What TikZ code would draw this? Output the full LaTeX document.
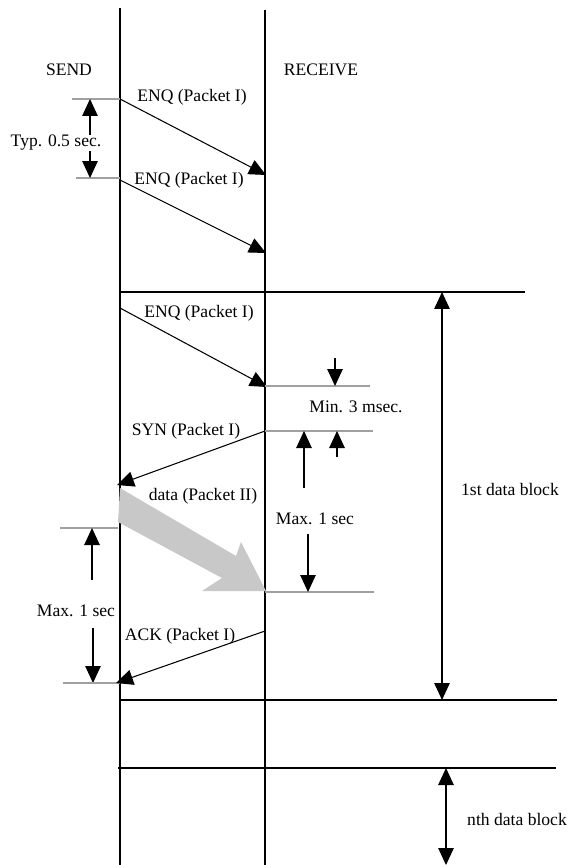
\documentclass[tikz,border=0pt]{standalone}
\usepackage{fontspec}
\setmainfont{Liberation Serif}
\usetikzlibrary{arrows.meta,positioning}
\definecolor{datagray}{RGB}{200,200,200}
\definecolor{tickgray}{RGB}{160,160,160}

\begin{document}
\begin{tikzpicture}[x=0.02cm, y=-0.02cm, every node/.style={font=\fontsize{10}{12}\selectfont, inner sep=1pt},
  msg/.style={line width=0.6pt, -{Triangle[length=0.34cm, width=0.31cm]}},
  dim/.style={line width=0.6pt, -{Triangle[length=0.34cm, width=0.31cm]}},
  dimboth/.style={line width=0.7pt, {Triangle[length=0.34cm, width=0.31cm]}-{Triangle[length=0.34cm, width=0.31cm]}},
  tick/.style={draw=tickgray, line width=0.6pt},
  block/.style={line width=0.7pt}]
\useasboundingbox (0,0) rectangle (569,865);
% lifelines
\coordinate (sendtop) at (120,8);
\coordinate (sendbot) at (120,865);
\coordinate (recvtop) at (265,10);
\coordinate (recvbot) at (265,865);
\draw[block] (sendtop) -- (sendbot);
\draw[block] (recvtop) -- (recvbot);
\node (send) at (69,70) {SEND};
\node (receive) at (321,70) {RECEIVE};

% repeated ENQ
\coordinate (enqa) at (120,99);
\coordinate (enqaend) at (266,175);
\coordinate (enqb) at (120,180);
\coordinate (enqbend) at (266,253);
\coordinate (ticka) at (72,99);
\coordinate (tickb) at (76,178);
\coordinate (tickbend) at (120,178);
\draw[tick] (ticka) -- (enqa);
\draw[tick] (tickb) -- (tickbend);
\draw[msg] (enqa) -- (enqaend);
\draw[msg] (enqb) -- (enqbend);
\node (enqalabel) at (192,97) {ENQ (Packet I)};
\node (enqblabel) at (189,180) {ENQ (Packet I)};
\coordinate (typtop) at (90,99);
\coordinate (typbot) at (90,178);
\draw[dimboth] (typtop) -- (typbot);
\node[fill=white, inner sep=0pt] (typ) at (56,143) {Typ. 0.5 sec.};

% block boundaries
\coordinate (blockal) at (120,292);
\coordinate (blockar) at (525,292);
\coordinate (blockbl) at (120,700);
\coordinate (blockbr) at (557,700);
\coordinate (blockcl) at (118,768);
\coordinate (blockcr) at (556,768);
\draw[block] (blockal) -- (blockar);
\draw[block] (blockbl) -- (blockbr);
\draw[block] (blockcl) -- (blockcr);

% ENQ / SYN handshake
\coordinate (enqc) at (120,308);
\coordinate (enqcend) at (267,387);
\draw[msg] (enqc) -- (enqcend);
\node (enqclabel) at (199,313) {ENQ (Packet I)};
\coordinate (minl) at (265,386);
\coordinate (minr) at (370,386);
\draw[tick] (minl) -- (minr);
\coordinate (synl) at (265,431);
\coordinate (synr) at (373,431);
\draw[tick] (synl) -- (synr);
\coordinate (mindown) at (335,358);
\coordinate (mindownend) at (335,386);
\draw[dim] (mindown) -- (mindownend);
\coordinate (minup) at (337,457);
\coordinate (minupend) at (337,431);
\draw[dim] (minup) -- (minupend);
\node (min) at (356,407) {Min. 3 msec.};
\coordinate (synend) at (117,485);
\draw[msg] (synl) -- (synend);
\node (synlabel) at (186,431) {SYN (Packet I)};

% data packet
\fill[datagray] (120,488) -- (236,556) -- (241,542) -- (266,591) -- (202,591) -- (222,578) -- (118,522) -- cycle;
\node (datalabel) at (203,496) {data (Packet II)};
\coordinate (datal) at (265,592);
\coordinate (datar) at (374,592);
\draw[tick] (datal) -- (datar);
\coordinate (maxup) at (304,488);
\coordinate (maxupend) at (304,431);
\draw[dim] (maxup) -- (maxupend);
\node (maxr) at (315,519) {Max. 1 sec};
\coordinate (maxdown) at (308,534);
\coordinate (maxdownend) at (308,592);
\draw[dim] (maxdown) -- (maxdownend);

% ACK
\coordinate (ticke) at (60,528);
\coordinate (tickeend) at (118,528);
\draw[tick] (ticke) -- (tickeend);
\coordinate (ackup) at (92,580);
\coordinate (ackupend) at (92,528);
\draw[dim] (ackup) -- (ackupend);
\node (maxl) at (76,611) {Max. 1 sec};
\coordinate (ackdown) at (93,628);
\coordinate (ackdownend) at (93,683);
\draw[dim] (ackdown) -- (ackdownend);
\coordinate (tickf) at (63,683);
\coordinate (tickfend) at (120,683);
\draw[tick] (tickf) -- (tickfend);
\coordinate (ack) at (265,631);
\coordinate (ackend) at (116,683);
\draw[msg] (ack) -- (ackend);
\node (acklabel) at (180,636) {ACK (Packet I)};

% data blocks
\coordinate (firsttop) at (442,292);
\coordinate (firstbot) at (442,700);
\draw[dimboth] (firsttop) -- (firstbot);
\node (first) at (510,489) {1st data block};
\coordinate (nthtop) at (446,768);
\coordinate (nthbot) at (446,865);
\draw[dimboth] (nthtop) -- (nthbot);
\node (nth) at (517,819) {nth data block};
\end{tikzpicture}
\end{document}
